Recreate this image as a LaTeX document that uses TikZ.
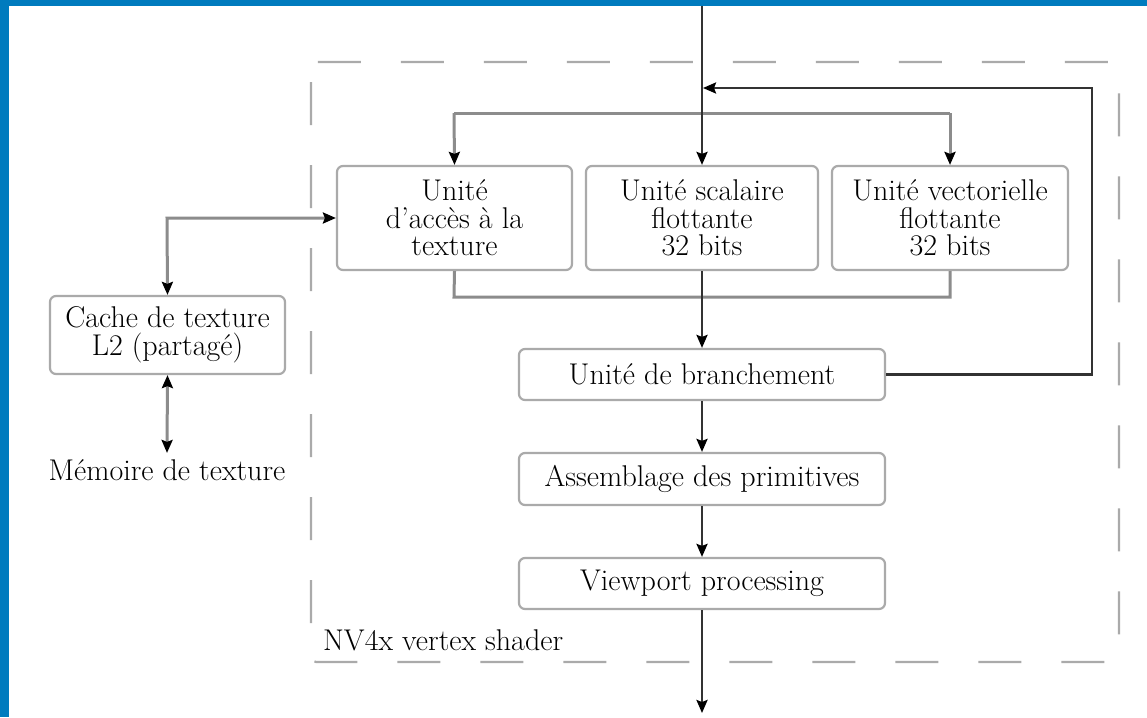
\documentclass[tikz,border=0pt]{standalone}
\usetikzlibrary{arrows.meta}
\definecolor{frameblue}{RGB}{0,123,190}
\definecolor{boxgray}{RGB}{170,170,170}
\definecolor{busgray}{RGB}{140,140,140}
\definecolor{flowdark}{RGB}{50,50,50}
\tikzset{
  unit/.style={draw=boxgray, line width=2.2pt, rounded corners=6pt, fill=white,
    align=center, inner sep=0pt, font=\fontsize{30}{27.5}\selectfont},
  plain/.style={inner sep=6pt, font=\fontsize{30}{27.5}\selectfont},
  tip/.style={-{Stealth[length=13pt,width=11pt,inset=2pt,color=black]}},
  tips/.style={{Stealth[length=13pt,width=11pt,inset=2pt,color=black]}-{Stealth[length=13pt,width=11pt,inset=2pt,color=black]}},
  flow/.style={draw=flowdark, line width=2.4pt},
  bus/.style={draw=busgray, line width=3pt},
}
\begin{document}
\begin{tikzpicture}[x=1pt, y=-1pt]
  % frame
  \fill[frameblue] (0,0) rectangle (1147,717);
  \fill[white] (9,6) rectangle (1147,717);
  \useasboundingbox (0,0) rectangle (1147,717);

  % shader outline
  \draw[boxgray, line width=2.2pt, rounded corners=5pt, dash pattern=on 43pt off 40pt, dash phase=-15pt]
    (311,62) rectangle (1119,662);
  \node[plain, anchor=base west, inner sep=0pt] (nvlabel) at (323,650) {NV4x vertex shader};

  % units
  \node[unit, minimum width=235pt, minimum height=104pt] (tex) at (454.5,218)
    {Unité\\d'accès à la\\texture};
  \node[unit, minimum width=232pt, minimum height=104pt] (sca) at (702,218)
    {Unité scalaire\\flottante\\32 bits};
  \node[unit, minimum width=236pt, minimum height=104pt] (vec) at (950,218)
    {Unité vectorielle\\flottante\\32 bits};
  \node[unit, minimum width=235pt, minimum height=78pt] (cache) at (167.5,335)
    {Cache de texture\\L2 (partagé)};
  \node[unit, minimum width=366pt, minimum height=51pt] (branch) at (702,374.5)
    {Unité de branchement};
  \node[unit, minimum width=366pt, minimum height=52pt] (assem) at (702,479)
    {Assemblage des primitives};
  \node[unit, minimum width=366pt, minimum height=51pt] (view) at (702,583.5)
    {Viewport processing};
  \node[plain, anchor=base] (mem) at (167,480) {Mémoire de texture};

  % junction points
  \coordinate (in) at (702,6);
  \coordinate (out) at (702,713);
  \coordinate (busTL) at (454,113);
  \coordinate (busTR) at (950,113);
  \coordinate (busBL) at (454,297);
  \coordinate (busBR) at (950,297);
  \coordinate (loopR) at (1092,374.5);
  \coordinate (loopT) at (1092,88);
  \coordinate (loopIn) at (703,88);
  \coordinate (texCorner) at (167,218);

  % distribution and collection buses
  \draw[bus, tip] (busTL) -- (tex.north);
  \draw[bus, tip] (busTR) -- (vec.north);
  \draw[bus] (busTL) -- (busTR);
  \draw[bus] (tex.south) -- (busBL) -- (busBR) -- (vec.south);

  % texture access
  \draw[bus, tips] (tex.west) -- (texCorner) -- (cache.north);
  \draw[bus, tips] (cache.south) -- (mem.north);

  % main flow
  \draw[flow, tip] (in) -- (sca.north);
  \draw[flow, tip] (sca.south) -- (branch.north);
  \draw[flow, tip] (branch.south) -- (assem.north);
  \draw[flow, tip] (assem.south) -- (view.north);
  \draw[flow, tip] (view.south) -- (out);
  \draw[flow, tip] (branch.east) -- (loopR) -- (loopT) -- (loopIn);
\end{tikzpicture}
\end{document}
